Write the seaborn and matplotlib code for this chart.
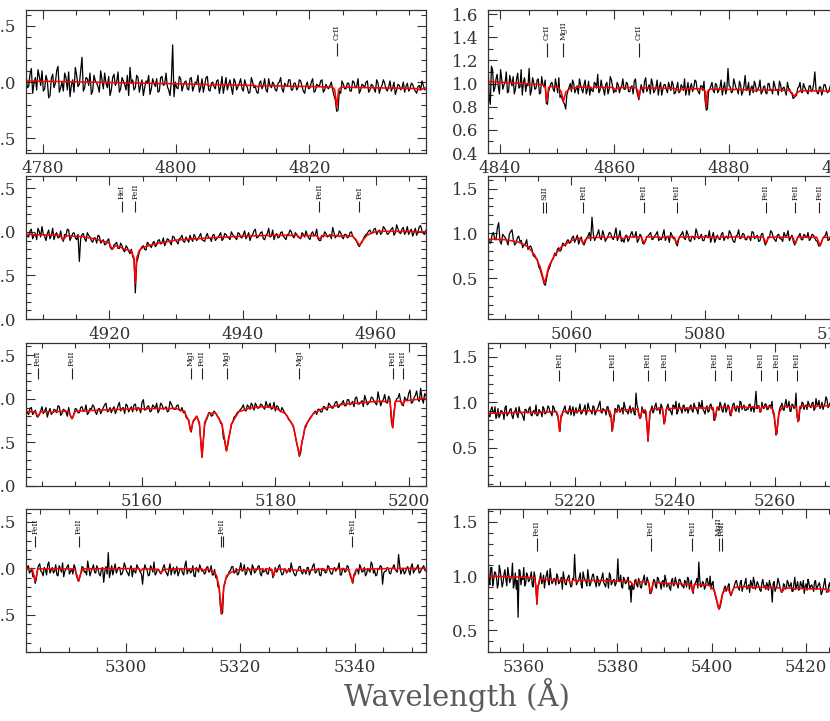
import numpy as np
import pandas as pd
import seaborn as sns
import matplotlib.pyplot as plt
from matplotlib.ticker import MultipleLocator, FormatStrFormatter

# wavelength window and flux limits of each panel (row by row, left then right)
wave_ranges = [(4777.5, 4837.5), (4837.9, 4907.9), (4907.5, 4967.5), (5047.5, 5107.5),
               (5142.6, 5202.6), (5202.6, 5282.6), (5282.5, 5352.5), (5352.5, 5437.5)]
flux_ranges = [(0.37, 1.64), (0.40, 1.635), (0.0, 1.64), (0.045, 1.64),
               (0.0, 1.64), (0.08, 1.65), (0.10, 1.64), (0.30, 1.62)]
flux_major = [0.5, 0.2, 0.5, 0.5, 0.5, 0.5, 0.5, 0.5]

# observed spectra, flux x 100, sampled every 0.2 A:
# "even" samples start at obs_start, "odd" samples 0.2 A later, both 0.4 A apart
obs_start = [4777.5, 4837.9, 4907.5, 5047.5, 5142.6, 5202.6, 5282.5, 5352.5]
obs_step = 0.4

even_1l = """
108 96 112 99 93 105 110 94 101 88 107 99 114 95 92 104 109 97 91 106
98 122 95 103 108 92 101 96 110 94 99 105 93 107 100 91 104 98 106 113
102 95 104 97 88 101 106 94 99 103 92 105 98 96 88 133 100 94 103 97
101 93 104 96 99 91 103 97 105 92 100 94 102 96 90 104 98 95 103 93
99 94 102 95 91 100 96 90 101 97 93 103 95 98 92 100 94 99 96 102
93 99 95 101 92 97 94 100 91 98 96 102 93 95 97 93 84 75 90 98
94 99 92 100 96 90 98 95 101 93 97 91 99 95 102 94 96 92 100 93 97 95 91 99 94 98 92 96 93 97 95
"""
odd_1l = """
95 107 90 104 111 97 92 106 86 103 95 110 91 100 108 93 87 102 113 96
110 92 104 97 89 106 99 91 102 108 95 88 104 97 109 94 101 93 88 99
93 106 91 102 95 99 89 103 96 91 104 97 108 93 101 87 95 105 92 100
94 103 92 100 106 95 91 104 93 99 96 101 90 105 97 93 102 89 100 96
103 92 98 90 104 95 91 99 94 103 91 97 100 93 99 104 91 97 102 93
99 93 102 96 90 100 95 103 92 97 101 91 98 94 100 88 74 92 101 94
99 92 101 95 103 93 97 100 91 98 94 102 90 97 99 92 101 95 89 98 93 100 96 92 99 94 90 97 101 93
"""
even_1r = """
121 82 112 96 108 91 104 99 110 93 102 106 95 109 97 90 105 100 113 94
101 96 104 92 99 103 82 97 101 93 98 105 90 84 78 94 100 103 92 98
104 95 99 91 102 96 93 100 108 94 97 90 101 95 103 92 93 99 96 104
95 100 93 98 102 94 86 99 92 105 96 91 100 94 103 97 90 99 95 101
94 99 92 101 93 97 104 95 90 100 96 102 93 98 94 85 78 95 101 92
99 94 103 96 91 113 97 93 100 95 102 90 98 94 101 96 92 99 95 103
93 98 91 100 95 102 94 90 99 96 93 101 95 91 88 90 97 93 100 95
91 98 94 110 92 97 90 99 95 93 100 92
"""
odd_1r = """
88 115 93 104 97 112 95 101 92 107 98 91 104 96 112 101 93 98 90 105
95 103 91 106 97 83 93 100 95 104 92 88 86 82 90 97 93 100 95 91
99 92 103 95 90 94 101 96 92 103 95 99 91 106 97 94 101 92 98 95
101 93 97 91 104 90 92 95 102 93 99 104 92 97 90 101 95 99 92 97
102 91 96 92 99 94 90 101 97 93 103 95 91 98 102 77 93 98 94 100
92 97 90 101 95 98 92 104 96 91 99 93 107 95 90 98 102 93 97 91
97 92 100 94 91 98 95 102 93 97 90 96 92 87 89 96 101 92 97 93
98 93 100 95 91 97 94 99 92 96 90
"""
even_2l = """
99 94 103 96 91 100 106 95 98 92 104 97 93 101 89 96 102 94 99 91
66 97 92 99 94 88 93 96 87 91 86 92 80 85 88 81 84 77 82 75
72 30 70 80 84 79 86 82 89 85 91 87 84 92 88 95 90 86 93 89
94 88 92 97 90 95 91 89 98 93 96 90 94 99 92 97 93 100 95 91
98 93 101 95 90 97 103 94 99 92 96 104 95 91 98 94 100 93 97 102
95 99 94 92 97 101 93 98 95 103 90 96 100 94 97 105 93 95 99 92
97 94 100 93 89 83 88 95 98 102 99 104 100 97 106 101 98 103 96 108
99 103 97 106 101 95 104 100 107 98 102
"""
odd_2l = """
95 101 92 98 104 94 97 90 102 96 91 99 94 92 97 103 90 98 93 97
92 98 89 96 90 93 87 95 89 85 90 83 80 86 81 87 79 84 78 80
68 65 77 83 80 88 84 87 83 90 86 93 88 91 85 94 89 92 96 88
91 96 89 94 92 98 90 95 93 89 97 92 96 90 98 94 91 97 93 99
94 97 92 99 95 101 93 96 100 91 98 94 102 96 93 99 95 91 97 100
93 97 93 99 94 96 91 100 97 92 90 94 98 95 92 99 96 101 94 97
93 99 95 91 85 86 92 97 101 98 103 97 102 99 104 97 101 105 99 103
98 105 100 97 103 99 96 106 101 97
"""
even_2r = """
96 89 101 93 112 88 97 92 99 104 87 95 91 84 88 82 86 75 72 63
55 44 50 61 70 78 82 80 89 86 93 90 97 94 88 96 87 95 101 118
92 99 95 103 91 97 100 93 106 96 91 90 98 94 102 96 90 99 89 91
97 101 94 99 92 93 104 96 90 98 95 86 97 102 93 99 91 96 105 94
99 92 97 103 95 90 98 93 101 96 94 100 91 97 104 95 99 93 96 102
94 98 92 100 87 96 103 95 91 99 94 101 97 92 98 87 95 100 93 97
101 94 98 92 86 89 96 102 93 99 95
"""
odd_2r = """
90 98 94 106 91 99 95 87 102 93 89 97 92 88 93 85 82 74 71 60
50 42 58 66 72 75 84 82 88 91 89 95 90 98 93 89 91 97 92 99
96 104 93 98 94 101 95 99 92 103 93 97 91 99 96 102 93 97 88 96
99 93 97 102 94 98 92 97 101 94 89 93 99 95 103 92 97 93 100 95
92 98 95 90 101 94 94 99 92 97 103 95 90 98 94 100 93 97 92 101
96 91 99 92 90 95 101 93 98 94 91 97 103 95 91 90 97 93 99 95
92 99 95 91 86 94 98 92 97 100
"""
even_3l = """
88 82 90 84 80 82 91 86 79 89 84 87 92 81 88 85 90 78 83 88
84 91 86 82 89 93 85 88 83 90 95 86 84 91 87 96 89 83 92 88
85 94 90 84 99 88 92 86 91 95 87 93 89 85 97 90 88 93 86 84
79 76 62 75 80 71 33 70 78 84 81 84 79 72 55 41 56 70 79 83
86 90 87 93 88 92 95 89 94 90 97 91 88 96 92 87 90 84 80 75
70 57 43 38 56 68 75 80 84 82 88 85 91 87 93 89 96 90 94 98
92 99 95 91 102 94 98 104 93 97 101 95 108 92 99 96 103 74 85 100
106 93 102 98 110 96 104 99 112 95 103
"""
odd_3l = """
84 89 82 87 79 86 83 90 85 82 88 84 91 83 87 80 82 78 89 84
90 86 93 84 88 91 82 89 86 93 85 90 88 83 92 86 90 94 85 91
93 86 89 96 87 91 85 93 89 84 95 88 91 86 94 88 92 87 90 86
77 66 73 77 76 54 52 75 84 80 86 82 77 71 52 45 61 73 80 85
88 93 86 91 95 87 92 90 93 88 92 95 89 86 91 85 87 82 76 72
65 49 34 51 66 73 78 82 86 88 85 91 88 95 90 92 97 91 95 92
99 93 97 101 94 96 91 99 95 102 97 93 100 97 105 95 99 67 96 101
97 92 99 106 95 101 109 97 100 106
"""
even_3r = """
91 84 95 88 82 93 86 90 81 96 87 92 85 89 94 83 90 87 80 92
88 95 85 91 97 86 90 84 93 88 96 89 85 94 90 84 68 85 93 89
87 96 91 85 94 90 98 88 93 86 99 91 87 95 89 94 101 88 92 86
95 84 68 80 92 97 89 94 100 90 87 96 92 88 110 93 82 95 88 84
57 88 96 91 99 93 87 95 76 90 98 92 86 96 101 90 94 88 97 92
88 95 91 99 93 87 96 102 90 94 89 97 92 80 85 95 100 91 96 89
97 86 93 99 90 95 101 92 97 91 92 98 94 89 112 96 89 100 93 98
92 97 101 86 64 80 94 99 91 103 96 90 98 93 110 79 94 100 92 97
101 95 99 91 104 97 93 100 96 106 94 99 95 102
"""
odd_3r = """
85 92 89 95 86 83 91 88 94 85 89 93 82 90 86 95 88 84 92 89
93 86 90 87 85 92 89 95 87 91 94 88 96 90 86 74 84 90 96 88
92 86 95 89 88 93 87 91 97 89 94 90 96 86 92 98 89 93 91 95
88 85 74 93 89 96 91 87 95 90 92 88 94 86 97 85 84 90 92 76
73 92 88 96 91 94 98 88 80 95 91 89 97 93 87 99 92 96 90 94
92 97 89 95 91 100 93 92 87 96 90 98 93 81 94 91 97 89 99 92
95 85 98 92 96 89 100 94 91 93 97 90 95 99 93 96 90 94 98 92
96 93 88 76 66 89 96 92 98 94 101 90 97 95 85 80 93 99 96 92
98 94 100 93 97 102 95 92 99 103 96 100 94
"""
even_4l = """
94 103 97 91 84 99 105 96 101 93 107 98 95 104 92 100 106 97 102 94
99 104 93 86 95 101 97 108 92 100 96 103 94 99 85 102 117 96 93 105
98 101 94 106 97 92 103 99 95 101 96 83 104 98 93 100 107 95 99 94
101 97 92 105 99 94 102 96 100 93 108 98 95 103 91 99 104 97 94 101
96 103 93 90 80 60 52 84 91 97 102 95 100 94 106 98 93 101 97 104
95 99 103 92 96 100 94 98 90 101 97 104 93 99 95 100 106 96 92 98
102 94 97 101 93 99 105 96 100 92 98 95 103 97 94 101 99 106 93 100
97 102 91 84 93 99 104 96 101 94 98 107 95 92 100 103 83 97 101 95
99 104 97 115 94 100 96 102 93 105 98 101 95 99 103 97
"""
odd_4l = """
101 95 99 92 88 103 97 92 99 104 95 101 97 93 103 96 91 99 104 97
94 101 89 90 102 96 93 100 97 104 95 99 92 101 97 94 90 103 99 95
101 93 98 102 95 100 91 97 104 99 94 97 100 92 103 96 93 99 96 97
104 95 99 93 101 97 92 100 95 103 94 99 97 92 101 96 100 98 95 102
97 93 99 91 80 51 79 90 94 98 102 96 93 100 97 104 95 99 93 101
97 102 94 99 97 94 101 99 93 96 102 97 94 99 97 96 100 93 97 102
96 99 94 101 97 103 95 99 93 100 98 96 102 94 99 97 101 93 100 96
103 95 88 93 99 94 101 97 92 100 96 104 98 93 99 102 95 97 100 94
101 99 96 103 98 94 100 97 102 95 99 104 96 101 98
"""
even_4r = """
125 92 108 96 103 89 110 98 94 106 91 102 97 112 93 88 62 105 99 108
93 101 96 104 90 99 74 92 103 96 89 101 95 107 93 98 92 100 94 99
104 93 97 101 90 98 120 92 96 103 89 99 95 106 91 97 102 94 100 91
96 103 92 98 89 101 94 97 93 116 95 90 99 93 97 88 76 88 96 92
98 90 95 101 92 96 84 86 97 91 99 94 88 96 101 90 93 87 98 92
95 89 97 91 89 94 99 88 96 84 93 98 113 90 95 88 97 92 100 93
87 80 73 70 77 85 91 88 93 82 87 92 96 89 94 86 91 98 90 85
93 99 88 95 90 86 97 91 94 87 92 76 95 89 98 91 85 93 88 96
90 94 86 99 91 87 95 89 84 93 97 88 92 86 96 90 94 83 89 98 85 91 87 95 89
"""
odd_4r = """
96 108 91 104 99 93 105 90 102 97 108 94 99 89 103 96 106 92 97 91
103 95 99 92 104 88 91 98 93 101 97 105 92 99 95 97 102 93 96 88
98 92 99 94 91 97 101 94 99 92 104 97 91 99 93 101 96 90 97 93
99 94 90 97 103 92 96 91 98 95 101 89 97 94 99 91 93 88 97 90
95 89 97 92 99 93 84 91 96 89 98 93 95 90 97 93 89 96 91 99
92 97 94 91 96 90 98 93 87 92 95 89 97 91 94 90 98 92 88 95
84 77 70 73 83 89 86 91 85 84 89 95 91 87 96 90 94 88 92 96
89 95 90 93 87 94 91 88 92 96 89 93 86 91 95 87 86 92 89 94
91 86 93 89 95 88 92 96 90 87 94 91 89 95 88 92 90 85 93 89 86 94 88 91
"""
obs_even = [even_1l, even_1r, even_2l, even_2r, even_3l, even_3r, even_4l, even_4r]
obs_odd = [odd_1l, odd_1r, odd_2l, odd_2r, odd_3l, odd_3r, odd_4l, odd_4r]

# synthetic (model) spectra
mod_wl_1l = [4777.5, 4779.6, 4780.0, 4780.4, 4804.6, 4805.1, 4805.6, 4811.8, 4812.3, 4812.8,
             4823.4, 4823.8, 4824.1, 4824.4, 4824.8, 4836.1, 4836.6, 4837.1, 4837.5]
mod_fl_1l = [1.010, 1.007, 1.000, 1.007, 0.979, 0.965, 0.978, 0.970, 0.957, 0.969,
             0.956, 0.935, 0.775, 0.935, 0.955, 0.942, 0.930, 0.941, 0.940]

mod_wl_1r = [4837.9, 4847.5, 4847.9, 4848.2, 4848.5, 4849.2, 4850.2, 4850.7, 4851.1, 4851.5,
             4852.2, 4853.5, 4855.8, 4856.2, 4856.6, 4859.8, 4860.2, 4860.6, 4863.8, 4864.1,
             4864.3, 4864.5, 4864.9, 4870.6, 4871.3, 4872.0, 4875.6, 4875.9, 4876.1, 4876.3,
             4876.7, 4884.2, 4884.6, 4885.0, 4890.5, 4891.1, 4891.5, 4891.9, 4892.6, 4898.0, 4907.9]
mod_fl_1r = [1.017, 0.990, 0.970, 0.845, 0.965, 0.978, 0.965, 0.930, 0.845, 0.925,
             0.955, 0.968, 0.970, 0.955, 0.969, 0.966, 0.945, 0.965, 0.963, 0.940,
             0.875, 0.940, 0.962, 0.958, 0.935, 0.956, 0.953, 0.930, 0.800, 0.930,
             0.952, 0.946, 0.936, 0.945, 0.942, 0.920, 0.885, 0.918, 0.939, 0.934, 0.925]

mod_wl_2l = [4907.5, 4912.6, 4913.1, 4913.6, 4916.0, 4918.0, 4920.0, 4920.4, 4920.9, 4921.5,
             4922.3, 4923.3, 4923.7, 4923.9, 4924.1, 4924.5, 4925.0, 4927.0, 4930.0, 4935.0,
             4940.0, 4945.0, 4948.2, 4948.6, 4949.0, 4951.1, 4951.5, 4951.9, 4954.2, 4954.5,
             4954.8, 4956.5, 4957.0, 4957.5, 4958.0, 4958.6, 4959.4, 4960.5, 4967.5]
mod_fl_2l = [0.970, 0.960, 0.910, 0.955, 0.945, 0.915, 0.870, 0.800, 0.840, 0.830,
             0.800, 0.780, 0.700, 0.410, 0.700, 0.785, 0.820, 0.865, 0.905, 0.930,
             0.950, 0.960, 0.958, 0.930, 0.957, 0.955, 0.917, 0.955, 0.957, 0.945,
             0.957, 0.950, 0.910, 0.845, 0.900, 0.955, 0.990, 1.008, 1.000]

mod_wl_2r = [5047.5, 5050.0, 5052.0, 5053.5, 5054.5, 5055.3, 5056.0, 5056.6, 5057.5, 5058.5,
             5060.0, 5061.2, 5061.5, 5061.8, 5062.1, 5062.5, 5064.9, 5065.2, 5065.5, 5067.4,
             5067.8, 5068.2, 5070.5, 5070.9, 5071.3, 5073.2, 5073.5, 5073.8, 5075.4, 5075.8,
             5076.2, 5081.9, 5082.2, 5082.5, 5085.9, 5086.2, 5086.5, 5088.8, 5089.2, 5089.6,
             5093.2, 5093.6, 5094.0, 5096.8, 5097.3, 5097.8, 5100.3, 5100.6, 5100.9, 5104.6,
             5105.0, 5105.4, 5107.5]
mod_fl_2r = [0.935, 0.930, 0.905, 0.850, 0.760, 0.630, 0.440, 0.630, 0.760, 0.850,
             0.920, 0.945, 0.930, 0.885, 0.930, 0.950, 0.958, 0.940, 0.958, 0.960,
             0.935, 0.960, 0.960, 0.890, 0.960, 0.960, 0.945, 0.960, 0.960, 0.890,
             0.960, 0.960, 0.945, 0.960, 0.960, 0.945, 0.960, 0.958, 0.890, 0.958,
             0.958, 0.890, 0.958, 0.957, 0.865, 0.956, 0.955, 0.940, 0.955, 0.955,
             0.925, 0.955, 0.955]

mod_wl_3l = [5142.6, 5144.0, 5144.4, 5144.8, 5146.2, 5146.5, 5146.8, 5149.0, 5149.5, 5150.0,
             5152.0, 5155.0, 5160.0, 5165.0, 5166.3, 5167.0, 5167.3, 5167.7, 5168.2, 5168.6,
             5169.0, 5169.4, 5170.0, 5171.0, 5172.0, 5172.7, 5173.4, 5174.5, 5176.0, 5178.0,
             5180.0, 5181.5, 5182.7, 5183.6, 5184.5, 5185.7, 5187.0, 5190.0, 5195.0, 5197.2,
             5197.6, 5198.0, 5198.8, 5199.1, 5199.4, 5202.6]
mod_fl_3l = [0.855, 0.850, 0.797, 0.850, 0.852, 0.838, 0.853, 0.857, 0.770, 0.858,
             0.865, 0.875, 0.885, 0.890, 0.860, 0.750, 0.624, 0.750, 0.800, 0.730,
             0.330, 0.730, 0.830, 0.840, 0.710, 0.400, 0.710, 0.850, 0.890, 0.910,
             0.895, 0.830, 0.690, 0.350, 0.690, 0.830, 0.885, 0.935, 0.970, 0.970,
             0.667, 0.970, 0.975, 0.935, 0.976, 1.005]

mod_wl_3r = [5202.6, 5210.0, 5212.2, 5212.6, 5213.0, 5216.3, 5216.6, 5216.9, 5217.2, 5217.6,
             5220.2, 5220.5, 5220.8, 5226.9, 5227.2, 5227.5, 5227.8, 5228.2, 5230.7, 5231.0,
             5231.3, 5232.5, 5233.0, 5233.5, 5234.2, 5234.6, 5235.0, 5235.6, 5237.5, 5237.9,
             5238.3, 5242.7, 5243.0, 5243.3, 5245.8, 5246.1, 5246.4, 5247.6, 5248.0, 5248.4,
             5250.8, 5251.2, 5251.6, 5254.2, 5254.5, 5254.8, 5255.8, 5256.1, 5256.4, 5256.8,
             5257.1, 5257.4, 5259.3, 5259.8, 5260.3, 5260.8, 5261.5, 5264.2, 5264.6, 5265.0,
             5267.8, 5268.1, 5268.4, 5276.0, 5276.3, 5276.6, 5280.0, 5282.6]
mod_fl_3r = [0.878, 0.889, 0.890, 0.872, 0.891, 0.895, 0.850, 0.680, 0.850, 0.897,
             0.904, 0.892, 0.905, 0.910, 0.860, 0.690, 0.860, 0.910, 0.918, 0.905,
             0.920, 0.924, 0.830, 0.915, 0.900, 0.593, 0.900, 0.928, 0.930, 0.767,
             0.930, 0.935, 0.925, 0.936, 0.938, 0.928, 0.939, 0.940, 0.815, 0.940,
             0.942, 0.865, 0.943, 0.948, 0.935, 0.948, 0.949, 0.938, 0.950, 0.950,
             0.895, 0.950, 0.950, 0.880, 0.645, 0.880, 0.952, 0.955, 0.785, 0.955,
             0.958, 0.945, 0.958, 0.970, 0.955, 0.971, 0.975, 0.980]

mod_wl_4l = [5282.5, 5283.6, 5284.1, 5284.6, 5291.0, 5291.4, 5291.7, 5292.0, 5292.4, 5296.3,
             5296.6, 5296.9, 5302.3, 5302.6, 5302.9, 5305.6, 5306.1, 5306.6, 5307.3, 5307.6,
             5307.9, 5313.3, 5313.6, 5313.9, 5315.0, 5315.8, 5316.3, 5316.7, 5317.1, 5317.6,
             5318.4, 5319.5, 5324.0, 5324.3, 5324.6, 5325.5, 5325.8, 5326.1, 5327.9, 5328.2,
             5328.5, 5330.0, 5332.0, 5333.5, 5334.7, 5335.0, 5335.3, 5337.2, 5337.5, 5337.8,
             5339.0, 5339.3, 5339.6, 5339.9, 5340.3, 5347.0, 5347.3, 5347.6, 5352.5]
mod_fl_4l = [1.000, 0.997, 0.863, 0.995, 0.995, 0.930, 0.863, 0.930, 0.995, 0.998,
             0.988, 0.998, 0.998, 0.970, 0.996, 0.990, 0.950, 0.985, 0.993, 0.980,
             0.995, 0.995, 0.972, 0.993, 0.980, 0.930, 0.800, 0.510, 0.800, 0.920,
             0.960, 0.985, 0.995, 0.970, 0.995, 0.990, 0.920, 0.990, 0.993, 0.960,
             0.990, 0.978, 0.978, 0.990, 0.995, 0.970, 0.995, 0.998, 0.985, 0.998,
             0.985, 0.930, 0.850, 0.930, 0.990, 1.000, 0.980, 1.000, 1.000]

mod_wl_4r = [5352.5, 5360.0, 5362.4, 5362.7, 5362.9, 5363.1, 5363.5, 5364.5, 5366.0, 5366.3,
             5366.6, 5367.5, 5367.8, 5368.1, 5369.6, 5370.1, 5370.6, 5371.1, 5371.4, 5371.7,
             5375.6, 5375.9, 5376.2, 5382.8, 5383.4, 5384.0, 5386.6, 5387.1, 5387.6, 5390.2,
             5390.5, 5390.8, 5393.7, 5394.0, 5394.3, 5395.6, 5396.0, 5396.4, 5399.5, 5400.6,
             5401.6, 5402.4, 5403.4, 5404.1, 5404.8, 5406.5, 5408.6, 5408.9, 5409.2, 5411.5,
             5411.8, 5412.1, 5414.5, 5415.0, 5415.5, 5417.5, 5417.8, 5418.1, 5424.3, 5424.8,
             5425.3, 5437.5]
mod_fl_4r = [1.000, 0.990, 0.985, 0.900, 0.747, 0.900, 0.975, 0.970, 0.968, 0.952,
             0.967, 0.966, 0.950, 0.966, 0.964, 0.930, 0.963, 0.962, 0.945, 0.962,
             0.960, 0.945, 0.960, 0.950, 0.910, 0.948, 0.945, 0.845, 0.943, 0.936,
             0.920, 0.935, 0.930, 0.915, 0.929, 0.926, 0.855, 0.924, 0.915, 0.870,
             0.694, 0.850, 0.895, 0.830, 0.895, 0.902, 0.900, 0.888, 0.899, 0.896,
             0.882, 0.895, 0.892, 0.855, 0.891, 0.889, 0.877, 0.888, 0.880, 0.855,
             0.879, 0.870]

mod_wl = [mod_wl_1l, mod_wl_1r, mod_wl_2l, mod_wl_2r, mod_wl_3l, mod_wl_3r, mod_wl_4l, mod_wl_4r]
mod_fl = [mod_fl_1l, mod_fl_1r, mod_fl_2l, mod_fl_2r, mod_fl_3l, mod_fl_3r, mod_fl_4l, mod_fl_4r]

# line identifications (an empty name = second tick of a blended pair)
id_wl = [
    [4824.1],
    [4848.2, 4851.1, 4864.3],
    [4921.9, 4923.9, 4951.5, 4957.5],
    [5056.0, 5055.8, 5056.2, 5061.8, 5070.9, 5075.8, 5089.2, 5093.6, 5097.2],
    [5144.4, 5149.5, 5167.3, 5169.0, 5172.7, 5183.6, 5197.6, 5199.1],
    [5216.9, 5227.5, 5234.6, 5238.0, 5248.0, 5251.2, 5257.2, 5260.3, 5264.4],
    [5284.1, 5291.7, 5316.75, 5316.6, 5316.9, 5339.6],
    [5362.9, 5387.1, 5395.9, 5401.6, 5402.2],
]
id_name = [
    ["CrII"],
    ["CrII", "MgII", "CrII"],
    ["HeI", "FeII", "FeII", "FeI"],
    ["SiII", "", "", "FeII", "FeII", "FeII", "FeII", "FeII", "FeII"],
    ["FeII", "FeII", "MgI", "FeII", "MgI", "MgI", "FeII", "FeII"],
    ["FeII"] * 9,
    ["FeII", "FeII", "FeII", "", "", "FeII"],
    ["FeII", "FeII", "FeII", "MgII", "FeII"],
]
# which entries carry a tick mark (the text-only anchor of a pair has none)
id_tick = [
    [1],
    [1, 1, 1],
    [1, 1, 1, 1],
    [0, 1, 1, 1, 1, 1, 1, 1, 1],
    [1] * 8,
    [1] * 9,
    [1, 1, 0, 1, 1, 1],
    [1, 1, 1, 1, 1],
]

sns.set_style("ticks")
plt.rcParams['font.family'] = ['DejaVu Serif', 'DejaVu Sans']

fig = plt.figure(figsize=(8.3, 7.21), dpi=100)
W, H = 830.0, 721.0
col_left = [26, 488]
row_top = [10, 176, 343, 509]

for i in range(8):
    r, c = divmod(i, 2)
    ax = fig.add_axes([col_left[c] / W, 1 - (row_top[r] + 143) / H, 400 / W, 143 / H])

    f_even = np.array(obs_even[i].split(), dtype=float) / 100.0
    f_odd = np.array(obs_odd[i].split(), dtype=float) / 100.0
    w_even = obs_start[i] + obs_step * np.arange(len(f_even))
    w_odd = obs_start[i] + obs_step / 2 + obs_step * np.arange(len(f_odd))
    obs = pd.DataFrame({"wave": np.concatenate([w_even, w_odd]),
                        "flux": np.concatenate([f_even, f_odd])})
    mod = pd.DataFrame({"wave": mod_wl[i], "flux": mod_fl[i]})

    sns.lineplot(data=obs, x="wave", y="flux", ax=ax, color="black", lw=0.9,
                 estimator=None, sort=True, legend=False)
    sns.lineplot(data=mod, x="wave", y="flux", ax=ax, color="red", lw=1.15,
                 estimator=None, sort=False, legend=False)

    for w, name, tk in zip(id_wl[i], id_name[i], id_tick[i]):
        if tk:
            ax.vlines(w, 1.23, 1.35, color="#222222", lw=0.8)
        if name:
            ax.text(w, 1.375, name, rotation=90, ha="center", va="bottom",
                    fontsize=5.5, color="#111111")

    ax.set_xlim(*wave_ranges[i])
    ax.set_ylim(*flux_ranges[i])
    ax.set_xlabel("")
    ax.set_ylabel("")
    ax.xaxis.set_major_locator(MultipleLocator(20))
    ax.xaxis.set_minor_locator(MultipleLocator(5))
    ax.yaxis.set_major_locator(MultipleLocator(flux_major[i]))
    ax.yaxis.set_minor_locator(MultipleLocator(0.1))
    ax.xaxis.set_major_formatter(FormatStrFormatter('%d'))
    ax.yaxis.set_major_formatter(FormatStrFormatter('%.1f'))
    ax.tick_params(which="both", direction="in", top=True, right=True,
                   color="#333333", width=0.8, labelsize=12, labelcolor="#333333")
    ax.tick_params(which="major", length=6.5)
    ax.tick_params(which="minor", length=3.5)
    ax.tick_params(axis="x", pad=5)
    ax.tick_params(axis="y", pad=7)
    for sp in ax.spines.values():
        sp.set_color("#333333")
        sp.set_linewidth(0.9)

fig.text(457 / W, 1 - 695 / H, "Wavelength (Å)", ha="center", va="center",
         fontsize=21, color="#5a5a5a")

fig.savefig("out.png", dpi=100)
